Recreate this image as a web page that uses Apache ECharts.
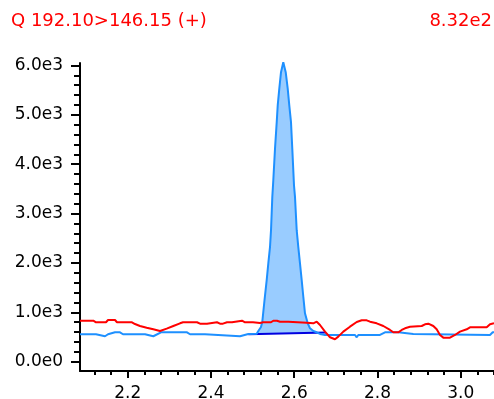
<!DOCTYPE html>
<html>
<head>
    <meta charset="utf-8">
    <title>ECharts</title>
    <script src="https://cdn.jsdelivr.net/npm/echarts@6/dist/echarts.min.js"></script>
    <style>
        html, body { margin: 0; padding: 0; background: #fff; }
    </style>
</head>
<body>
    <div id="main" style="width:494px; height:399px;"></div>

    <script type="text/javascript">
        var titleLeft = 'Q 192.10>146.15 (+)';
        var titleRight = '8.32e2';

        // axis ranges
        var xMin = 2.0854, xMax = 3.080;
        var yMin = -190, yMax = 6050;
        var xMajorTicks = [2.2, 3.0, 0.2];     // min, max, step
        var xMinorTicks = [2.12, 3.08, 0.04];
        var yMajorTicks = [0, 6000, 1000];

        // blue trace (x, intensity)
        var blueX = [2.0854, 2.1238, 2.1286, 2.1455, 2.1527, 2.1695, 2.1815, 2.1887, 2.2416, 2.2456,
                     2.2615, 2.2656, 2.2800, 2.3425, 2.3497, 2.3857, 2.3898, 2.4698, 2.4739, 2.4897,
                     2.5099, 2.5138, 2.5202, 2.5234, 2.5287, 2.5339, 2.5378, 2.5419, 2.5443, 2.5474,
                     2.5498, 2.5539, 2.5580, 2.5604, 2.5642, 2.5683, 2.5738, 2.5796, 2.5844, 2.5882,
                     2.5923, 2.5954, 2.5995, 2.6019, 2.6060, 2.6098, 2.6139, 2.6180, 2.6219, 2.6259,
                     2.6324, 2.6380, 2.6459, 2.6541, 2.6620, 2.6740, 2.7461, 2.7502, 2.7540, 2.8061,
                     2.8181, 2.8501, 2.8542, 2.8861, 2.8902, 3.0704, 3.0769, 3.0800];
        var blueY = [554, 554, 514, 514, 554, 594, 594, 554, 554, 514,
                     514, 554, 594, 594, 554, 554, 514, 514, 554, 560,
                     566, 621, 702, 809, 1248, 1652, 1990, 2326, 2663, 3337,
                     3674, 4315, 4853, 5191, 5529, 5864, 6067, 5864, 5529, 5191,
                     4853, 4315, 3573, 3337, 2663, 2326, 1990, 1652, 1314, 979,
                     777, 675, 621, 594, 560, 540, 540, 493, 540, 540,
                     594, 594, 560, 560, 540, 540, 594, 594];

        // red trace
        var redX = [2.0854, 2.1174, 2.1238, 2.1479, 2.1527, 2.1695, 2.1743, 2.2103, 2.2175, 2.2295,
                    2.2456, 2.2615, 2.2776, 2.2937, 2.3096, 2.3257, 2.3329, 2.3665, 2.3737, 2.3905,
                    2.3941, 2.4145, 2.4217, 2.4289, 2.4386, 2.4506, 2.4542, 2.4746, 2.4818, 2.5010,
                    2.5058, 2.5178, 2.5250, 2.5443, 2.5498, 2.5587, 2.5659, 2.5858, 2.5899, 2.6300,
                    2.6339, 2.6459, 2.6500, 2.6541, 2.6620, 2.6740, 2.6860, 2.6980, 2.7059, 2.7180,
                    2.7340, 2.7502, 2.7622, 2.7742, 2.7821, 2.7982, 2.8141, 2.8302, 2.8381, 2.8501,
                    2.8583, 2.8662, 2.8782, 2.9063, 2.9142, 2.9222, 2.9342, 2.9423, 2.9503, 2.9582,
                    2.9743, 2.9863, 2.9983, 3.0144, 3.0223, 3.0625, 3.0704, 3.0800];
        var redY = [829, 829, 797, 797, 843, 843, 797, 797, 762, 722,
                    688, 655, 621, 668, 722, 776, 797, 797, 769, 769,
                    797, 797, 769, 769, 797, 797, 829, 829, 797, 797,
                    783, 783, 797, 797, 829, 829, 809, 809, 789, 789,
                    776, 776, 809, 809, 742, 607, 493, 453, 506, 607,
                    708, 803, 837, 837, 809, 776, 722, 641, 594, 594,
                    641, 675, 708, 722, 756, 769, 722, 655, 540, 486,
                    486, 540, 607, 655, 695, 695, 756, 776];

        // integrated peak: baseline from start to end
        var baseX = [2.4897, 2.6764];
        var baseY = [556, 590];
        var fillLevel = 570;

        var font = 'DejaVu Sans';

        function pairs(xs, ys) {
            return xs.map(function (x, i) { return [x, ys[i]]; });
        }

        var peakData = pairs(blueX, blueY).filter(function (p) {
            return p[0] >= baseX[0] && p[0] <= baseX[1];
        });

        var myChart = echarts.init(document.getElementById('main'));

        var tickStyle = { color: '#000', width: 2 };
        var noAxis = { show: false, type: 'value', min: 0, max: 1 };

        myChart.setOption({
            animation: false,
            title: [
                {
                    text: titleLeft, left: 11, top: 12.7, padding: 0,
                    textStyle: { color: '#ff0000', fontSize: 18, fontWeight: 'normal', fontFamily: font }
                },
                {
                    text: titleRight, right: 2, top: 12.7, padding: 0,
                    textStyle: { color: '#ff0000', fontSize: 18, fontWeight: 'normal', fontFamily: font }
                }
            ],
            grid: [
                // data area
                { left: 80, right: 0, top: 63, bottom: 28, outerBoundsMode: 'none' },
                // y ticks (0 .. 6000)
                { left: 80, right: 0, top: 65.47, bottom: 37.38, outerBoundsMode: 'none' },
                // x major ticks (2.2 .. 3.0)
                { left: 127.7, right: 33.3, top: 63, bottom: 28, outerBoundsMode: 'none' },
                // x minor ticks (2.12 .. 3.08)
                { left: 94.4, right: 0, top: 63, bottom: 28, outerBoundsMode: 'none' }
            ],
            xAxis: [
                {
                    gridIndex: 0, type: 'value', min: xMin, max: xMax,
                    axisLine: { show: true, onZero: false, lineStyle: tickStyle },
                    axisTick: { show: false }, axisLabel: { show: false }, splitLine: { show: false }
                },
                Object.assign({ gridIndex: 1 }, noAxis),
                {
                    gridIndex: 2, type: 'value',
                    min: xMajorTicks[0], max: xMajorTicks[1], interval: xMajorTicks[2],
                    axisLine: { show: false, onZero: false },
                    axisTick: { show: true, length: 7, lineStyle: tickStyle },
                    axisLabel: {
                        margin: 14, fontSize: 17, color: '#000', fontFamily: font,
                        formatter: function (v) { return v.toFixed(1); }
                    },
                    splitLine: { show: false }
                },
                {
                    gridIndex: 3, type: 'value',
                    min: xMinorTicks[0], max: xMinorTicks[1], interval: xMinorTicks[2],
                    axisLine: { show: false, onZero: false },
                    axisTick: { show: true, length: 4, lineStyle: tickStyle },
                    axisLabel: { show: false }, splitLine: { show: false }
                }
            ],
            yAxis: [
                {
                    gridIndex: 0, type: 'value', min: yMin, max: yMax,
                    axisLine: { show: true, onZero: false, lineStyle: tickStyle },
                    axisTick: { show: false }, axisLabel: { show: false }, splitLine: { show: false }
                },
                {
                    gridIndex: 1, type: 'value',
                    min: yMajorTicks[0], max: yMajorTicks[1], interval: yMajorTicks[2],
                    axisLine: { show: false, onZero: false },
                    axisTick: { show: true, length: 9, lineStyle: tickStyle },
                    minorTick: { show: true, splitNumber: 5, length: 6, lineStyle: tickStyle },
                    axisLabel: {
                        margin: 17, fontSize: 17, color: '#000', fontFamily: font,
                        formatter: function (v) { return v.toExponential(1).replace('e+', 'e'); }
                    },
                    splitLine: { show: false }
                },
                Object.assign({ gridIndex: 2 }, noAxis),
                Object.assign({ gridIndex: 3 }, noAxis)
            ],
            series: [
                {
                    name: 'peak', type: 'line', xAxisIndex: 0, yAxisIndex: 0,
                    data: peakData, symbol: 'none', clip: false, z: 1, silent: true,
                    lineStyle: { width: 0 },
                    areaStyle: { color: '#99ccff', opacity: 1, origin: fillLevel }
                },
                {
                    name: 'baseline', type: 'line', xAxisIndex: 0, yAxisIndex: 0,
                    data: pairs(baseX, baseY), symbol: 'none', z: 2,
                    lineStyle: { color: '#0000e0', width: 2 }
                },
                {
                    name: 'blue', type: 'line', xAxisIndex: 0, yAxisIndex: 0,
                    data: pairs(blueX, blueY), symbol: 'none', clip: false, z: 3,
                    lineStyle: { color: '#1e90ff', width: 2 }
                },
                {
                    name: 'red', type: 'line', xAxisIndex: 0, yAxisIndex: 0,
                    data: pairs(redX, redY), symbol: 'none', z: 4,
                    lineStyle: { color: '#ff0000', width: 2 }
                }
            ]
        });
    </script>
</body>
</html>
